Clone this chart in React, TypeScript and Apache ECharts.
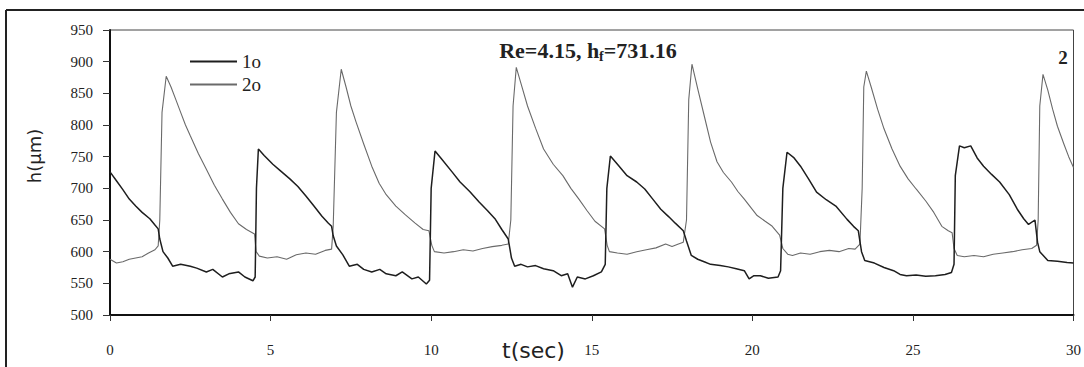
import React, { useEffect, useRef } from "react";
import * as echarts from "echarts";

const seriesNames = ["1o", "2o"];
const xTicks = [0, 5, 10, 15, 20, 25, 30];
const yTicks = [500, 550, 600, 650, 700, 750, 800, 850, 900, 950];

// series "1o" (dark): [t (sec), h (µm)]
const s1: number[][] = [
  [0.0, 726], [0.2, 712], [0.4, 698], [0.6, 683], [0.8, 672], [1.0, 662], [1.24, 652], [1.4, 642], [1.5, 636],
  [1.55, 620], [1.65, 600], [1.8, 590], [1.95, 577], [2.2, 580], [2.5, 577], [2.7, 574], [3.0, 568], [3.2, 572],
  [3.5, 560], [3.7, 565], [4.0, 568], [4.2, 560], [4.45, 554], [4.52, 560], [4.56, 700], [4.62, 762], [4.8, 752],
  [5.07, 738], [5.3, 728], [5.6, 715], [5.85, 703], [6.1, 688], [6.35, 672], [6.6, 656], [6.8, 645], [6.9, 640],
  [6.95, 625], [7.05, 609], [7.25, 595], [7.45, 577], [7.7, 580], [7.9, 572], [8.15, 568], [8.4, 572], [8.6, 565],
  [8.9, 562], [9.1, 568], [9.4, 557], [9.6, 560], [9.85, 549], [9.95, 555], [10.0, 700], [10.12, 759], [10.3, 748],
  [10.65, 726], [10.9, 710], [11.2, 695], [11.5, 678], [11.75, 665], [12.0, 651], [12.2, 635], [12.4, 620],
  [12.5, 590], [12.6, 577], [12.8, 580], [13.0, 576], [13.25, 578], [13.5, 573], [13.8, 570], [14.05, 562],
  [14.25, 565], [14.4, 544], [14.55, 560], [14.8, 557], [15.05, 562], [15.3, 568], [15.42, 580], [15.47, 700],
  [15.58, 751], [15.8, 738], [16.1, 720], [16.4, 710], [16.65, 699], [16.9, 683], [17.15, 667], [17.4, 655],
  [17.6, 645], [17.85, 633], [17.95, 617], [18.1, 594], [18.3, 588], [18.5, 584], [18.7, 580], [19.0, 578],
  [19.25, 576], [19.5, 573], [19.75, 570], [19.9, 557], [20.05, 562], [20.25, 562], [20.5, 558], [20.8, 560],
  [20.88, 570], [20.95, 700], [21.08, 757], [21.3, 748], [21.5, 735], [21.75, 715], [22.0, 694], [22.3, 682],
  [22.6, 672], [22.95, 651], [23.15, 640], [23.3, 633], [23.4, 600], [23.5, 586], [23.8, 582], [24.1, 575],
  [24.4, 570], [24.6, 564], [24.8, 562], [25.1, 563], [25.4, 561], [25.7, 562], [26.0, 564], [26.2, 567],
  [26.28, 580], [26.32, 720], [26.45, 767], [26.6, 764], [26.8, 767], [27.0, 748], [27.2, 735], [27.45, 722],
  [27.7, 710], [28.0, 690], [28.25, 667], [28.45, 652], [28.6, 643], [28.8, 650], [28.88, 615], [28.95, 600],
  [29.2, 586], [29.5, 585], [29.8, 583], [30.0, 582],
];

// series "2o" (gray): [t (sec), h (µm)]
const s2: number[][] = [
  [0.0, 588], [0.2, 582], [0.4, 584], [0.6, 588], [0.8, 590], [1.0, 592], [1.2, 598], [1.4, 603], [1.5, 609],
  [1.55, 650], [1.62, 820], [1.75, 877], [1.9, 860], [2.05, 840], [2.2, 820], [2.35, 800], [2.5, 783], [2.75, 755],
  [3.0, 730], [3.25, 705], [3.5, 683], [3.75, 662], [4.0, 644], [4.25, 635], [4.5, 628], [4.55, 600], [4.65, 593],
  [4.9, 590], [5.2, 592], [5.5, 588], [5.8, 595], [6.1, 598], [6.4, 596], [6.7, 602], [6.9, 604], [6.95, 640],
  [7.05, 820], [7.2, 888], [7.35, 860], [7.5, 830], [7.66, 805], [7.9, 770], [8.15, 735], [8.38, 708], [8.6, 690],
  [8.9, 672], [9.2, 658], [9.5, 645], [9.75, 635], [9.93, 633], [10.02, 610], [10.1, 600], [10.4, 598], [10.7, 600],
  [11.0, 603], [11.3, 601], [11.6, 605], [11.9, 608], [12.2, 610], [12.4, 612], [12.48, 650], [12.55, 830],
  [12.65, 891], [12.8, 865], [13.0, 830], [13.25, 795], [13.5, 762], [13.8, 738], [14.1, 720], [14.35, 700],
  [14.6, 683], [14.85, 665], [15.1, 648], [15.4, 636], [15.48, 610], [15.55, 600], [15.8, 598], [16.1, 596],
  [16.4, 600], [16.7, 603], [17.0, 606], [17.3, 612], [17.5, 608], [17.7, 612], [17.85, 615], [17.95, 650],
  [18.02, 840], [18.12, 896], [18.3, 857], [18.5, 815], [18.7, 773], [18.9, 742], [19.1, 725], [19.35, 710],
  [19.55, 695], [19.75, 683], [19.95, 670], [20.15, 657], [20.4, 648], [20.6, 641], [20.85, 626], [20.95, 605],
  [21.1, 596], [21.25, 594], [21.5, 598], [21.8, 596], [22.1, 600], [22.4, 602], [22.7, 600], [23.0, 605],
  [23.2, 604], [23.35, 612], [23.42, 700], [23.47, 860], [23.55, 885], [23.7, 860], [23.9, 825], [24.1, 794],
  [24.35, 762], [24.6, 735], [24.85, 715], [25.1, 699], [25.4, 680], [25.65, 662], [25.9, 640], [26.1, 633],
  [26.22, 630], [26.28, 605], [26.38, 594], [26.6, 592], [26.9, 594], [27.2, 592], [27.5, 596], [27.8, 598],
  [28.1, 600], [28.4, 603], [28.7, 605], [28.85, 610], [28.9, 650], [28.95, 830], [29.05, 880], [29.2, 855],
  [29.35, 825], [29.5, 798], [29.7, 770], [29.85, 750], [30.0, 733],
];

const titleMain = "Re=4.15, h";
const titleSub = "f";
const titleRest = "=731.16";
const panelLabel = "2";
const xName = "t(sec)";
const yName = "h(µm)";

export default function App() {
  const ref = useRef<HTMLDivElement>(null);
  useEffect(() => {
    if (!ref.current) return;
    const chart = echarts.init(ref.current, null, { renderer: "svg" });
    const tickFont = "'Liberation Serif', serif";
    chart.setOption({
      animation: false,
      backgroundColor: "#ffffff",
      grid: {
        left: 110,
        right: 6,
        top: 30,
        bottom: 52,
        show: true,
        borderColor: "#444",
        borderWidth: 1,
        backgroundColor: "transparent",
      },
      legend: {
        orient: "vertical",
        left: 185,
        top: 47,
        icon: "rect",
        itemWidth: 47,
        itemHeight: 2,
        itemGap: 4,
        data: seriesNames,
        textStyle: {
          fontFamily: "'Liberation Serif', serif",
          fontSize: 19,
          lineHeight: 19,
          color: "#222",
        },
      },
      xAxis: {
        type: "value",
        min: 0,
        max: 30,
        interval: 5,
        axisLine: { show: true, lineStyle: { color: "#111", width: 2 } },
        axisTick: { show: true, length: 6, lineStyle: { color: "#333", width: 1 } },
        axisLabel: {
          margin: 27,
          fontFamily: tickFont,
          fontSize: 15,
          color: "#222",
          formatter: (v: number) => (xTicks.includes(v) ? String(v) : ""),
        },
        splitLine: { show: false },
      },
      yAxis: {
        type: "value",
        min: 500,
        max: 950,
        interval: 50,
        axisLine: { show: true, lineStyle: { color: "#111", width: 2 } },
        axisTick: { show: true, length: 7, lineStyle: { color: "#333", width: 1 } },
        axisLabel: {
          margin: 17,
          fontFamily: tickFont,
          fontSize: 15,
          color: "#222",
          formatter: (v: number) => (yTicks.includes(v) ? String(v) : ""),
        },
        splitLine: { show: false },
      },
      series: [
        {
          name: seriesNames[0],
          type: "line",
          data: s1,
          symbol: "none",
          lineStyle: { color: "#1e1e1e", width: 1.5 },
          itemStyle: { color: "#1e1e1e" },
          z: 3,
        },
        {
          name: seriesNames[1],
          type: "line",
          data: s2,
          symbol: "none",
          lineStyle: { color: "#6a6a6a", width: 1.1 },
          itemStyle: { color: "#6a6a6a" },
          z: 2,
        },
      ],
      graphic: [
        { type: "line", shape: { x1: 6, y1: 10, x2: 6, y2: 367 }, style: { stroke: "#222", lineWidth: 2 } },
        { type: "line", shape: { x1: 6, y1: 10, x2: 1084, y2: 10 }, style: { stroke: "#222", lineWidth: 2 } },
        {
          type: "text",
          x: 588,
          y: 39,
          style: {
            text: `{a|${titleMain}}{s|${titleSub}}{a|${titleRest}}`,
            align: "center",
            rich: {
              a: {
                fontFamily: "'Liberation Serif', serif",
                fontWeight: "bold",
                fontSize: 22,
                lineHeight: 24,
                verticalAlign: "top",
                fill: "#222",
              },
              s: {
                fontFamily: "'Liberation Serif', serif",
                fontWeight: "bold",
                fontSize: 14,
                lineHeight: 12,
                verticalAlign: "bottom",
                fill: "#222",
              },
            },
          },
        },
        {
          type: "text",
          x: 1063,
          y: 57,
          style: {
            text: panelLabel,
            fontFamily: "'Liberation Serif', serif",
            fontWeight: "bold",
            fontSize: 19,
            fill: "#222",
            align: "center",
            verticalAlign: "middle",
          },
        },
        {
          type: "text",
          x: 502,
          y: 350,
          style: {
            text: xName,
            fontFamily: "'DejaVu Sans', sans-serif",
            fontSize: 22,
            fill: "#222",
            align: "left",
            verticalAlign: "middle",
          },
        },
        {
          type: "text",
          x: 34,
          y: 156,
          rotation: Math.PI / 2,
          style: {
            text: yName,
            fontFamily: "'DejaVu Sans', sans-serif",
            fontSize: 18,
            fill: "#222",
            align: "center",
            verticalAlign: "middle",
          },
        },
      ],
    });
    return () => chart.dispose();
  }, []);
  return (
    <div
      ref={ref}
      style={{ position: "fixed", left: 0, top: 0, width: 1084, height: 367, background: "#fff" }}
    />
  );
}
